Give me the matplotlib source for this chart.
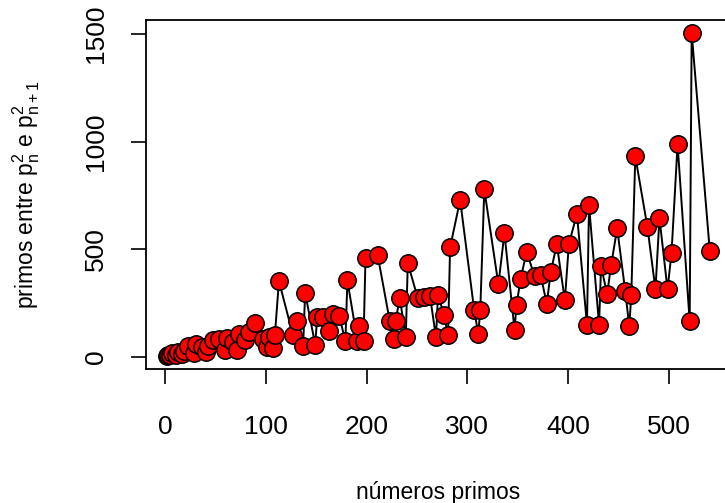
import matplotlib
matplotlib.use('Agg')
from matplotlib import pyplot as plt

primos = [2, 3, 5, 7, 11, 13, 17, 19, 23, 29, 31, 37, 41, 43, 47, 53, 59, 61, 67, 71,
          73, 79, 83, 89, 97, 101, 103, 107, 109, 113, 127, 131, 137, 139, 149, 151, 157, 163, 167, 173,
          179, 181, 191, 193, 197, 199, 211, 223, 227, 229, 233, 239, 241, 251, 257, 263, 269, 271, 277, 281,
          283, 293, 307, 311, 313, 317, 331, 337, 347, 349, 353, 359, 367, 373, 379, 383, 389, 397, 401, 409,
          419, 421, 431, 433, 439, 443, 449, 457, 461, 463, 467, 479, 487, 491, 499, 503, 509, 521, 523, 541]
contagem = [2, 5, 6, 15, 9, 22, 11, 27, 47, 16, 56, 46, 19, 47, 78, 81, 30, 87, 69, 28,
            106, 75, 114, 156, 81, 45, 92, 40, 101, 351, 98, 167, 47, 296, 55, 182, 182, 120, 200, 188,
            70, 354, 70, 140, 73, 460, 473, 167, 83, 167, 273, 89, 434, 270, 278, 283, 90, 285, 195, 98,
            507, 728, 214, 106, 214, 777, 335, 574, 125, 239, 359, 487, 374, 378, 245, 392, 523, 261, 523, 663,
            148, 705, 148, 421, 289, 426, 596, 304, 140, 285, 931, 603, 312, 644, 312, 483, 987, 164, 1505, 491]

plt.rcParams['font.family'] = ['Liberation Sans', 'DejaVu Sans']
plt.rcParams['mathtext.fontset'] = 'custom'
plt.rcParams['mathtext.rm'] = 'Liberation Sans'

fig = plt.figure(figsize=(7.25, 5.03), dpi=100)
ax = fig.add_axes([145.5/725, 1 - 369/503, 586/725, 349/503])

ax.plot(primos, contagem, color='black', lw=1.4, marker='o', ms=12.5,
        mfc='red', mec='black', mew=1.1)

rx = max(primos) - min(primos)
ry = max(contagem) - min(contagem)
ax.set_xlim(min(primos) - 0.04*rx, max(primos) + 0.04*rx)
ax.set_ylim(min(contagem) - 0.04*ry, max(contagem) + 0.04*ry)
ax.set_xticks([0, 100, 200, 300, 400, 500])
ax.set_yticks([0, 500, 1000, 1500])

for s in ax.spines.values():
    s.set_linewidth(1.3)
ax.tick_params(direction='out', length=11, width=1.2, labelsize=19)
ax.tick_params(axis='x', pad=22)
ax.tick_params(axis='y', pad=16)
for lab in ax.get_yticklabels():
    lab.set_rotation(90)
    lab.set_va('center')

ax.set_xlabel('números primos', fontsize=16.5, labelpad=30)
ax.set_ylabel(r'primos entre $\mathregular{p_n^2}$ e $\mathregular{p_{n+1}^2}$', fontsize=16.5, labelpad=30)

fig.savefig('out.png', dpi=100)
